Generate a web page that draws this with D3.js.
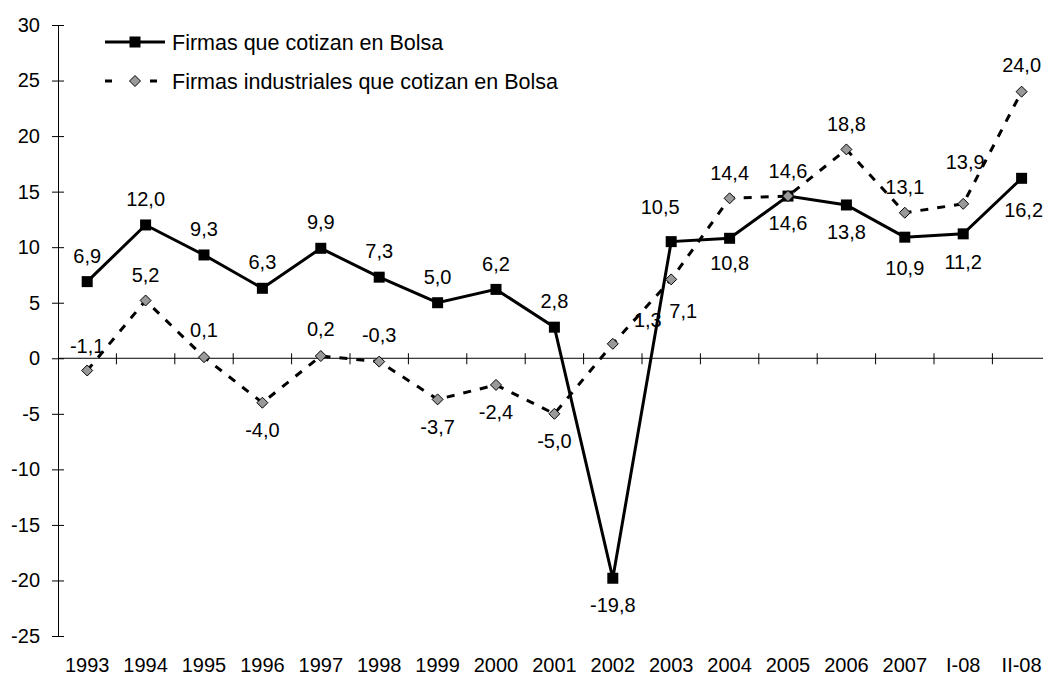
<!DOCTYPE html>
<html>
<head>
<meta charset="utf-8">
<script src="https://cdn.jsdelivr.net/npm/d3@7/dist/d3.min.js"></script>
<style>
  body { margin: 0; background: #fff; }
  svg { display: block; }
  text { font-family: "Liberation Sans", Arial, sans-serif; fill: #000; }
</style>
</head>
<body>
<svg id="chart" width="1043" height="675"></svg>
<script>
// ---- Data ----
const categories = ["1993","1994","1995","1996","1997","1998","1999","2000","2001","2002","2003","2004","2005","2006","2007","I-08","II-08"];
const seriesNames = ["Firmas que cotizan en Bolsa", "Firmas industriales que cotizan en Bolsa"];
const cotizan = [6.9, 12.0, 9.3, 6.3, 9.9, 7.3, 5.0, 6.2, 2.8, -19.8, 10.5, 10.8, 14.6, 13.8, 10.9, 11.2, 16.2];
const industriales = [-1.1, 5.2, 0.1, -4.0, 0.2, -0.3, -3.7, -2.4, -5.0, 1.3, 7.1, 14.4, 14.6, 18.8, 13.1, 13.9, 24.0];
const yTicks = [-25, -20, -15, -10, -5, 0, 5, 10, 15, 20, 25, 30];

// ---- Label layout (offsets from marker, px) ----
const labelOff1 = [[0,-26],[0,-26],[0,-26],[0,-26],[0,-26],[0,-26],[0,-26],[0,-26],[0,-26],[0,27],[-11,-35],[0,25],[0,27],[0,27],[0,31],[0,28],[2,31]];
const labelOff2 = [[0,-25],[0,-26],[0,-27],[0,27],[0,-27],[0,-27],[0,27],[0,27],[0,27],[35,-24],[12,31],[0,-26],[0,-25],[0,-26],[0,-26],[2,-42],[0,-27]];

(function () {
const fmt = v => v.toFixed(1).replace(".", ",");

const svg = d3.select("#chart");
const mLeft = 58, mTop = 25, mBottom = 636;
const x = d3.scaleBand().domain(categories).range([mLeft, mLeft + 17 * 58.4]).padding(0);
const y = d3.scaleLinear().domain([-25, 30]).range([mBottom, mTop]);
const cx = d => x(d) + x.bandwidth() / 2;

// Y axis
const yAxis = svg.append("g").attr("transform", `translate(${mLeft},0)`)
  .call(d3.axisLeft(y).tickValues(yTicks).tickSize(6).tickPadding(12).tickFormat(d => d));
yAxis.select(".domain").attr("stroke", "#000").attr("stroke-width", 1);
yAxis.selectAll(".tick line").attr("x1", -6).attr("x2", 6).attr("stroke", "#000");
yAxis.selectAll(".tick text").style("font-size", "20px").attr("fill", "#000")
  .attr("font-family", "Liberation Sans, Arial, sans-serif");

// X axis line at y=0 with boundary ticks
const y0 = y(0);
svg.append("line").attr("x1", mLeft).attr("x2", 1053).attr("y1", y0).attr("y2", y0)
  .attr("stroke", "#000").attr("stroke-width", 1);
svg.append("g").selectAll("line").data(categories)
  .join("line")
  .attr("x1", d => x(d) + x.bandwidth())
  .attr("x2", d => x(d) + x.bandwidth())
  .attr("y1", y0 - 5).attr("y2", y0 + 6)
  .attr("stroke", "#000").attr("stroke-width", 1);

// X category labels at bottom
const xAxis = svg.append("g").attr("transform", `translate(0,${mBottom})`)
  .call(d3.axisBottom(x).tickSize(0).tickPadding(22));
xAxis.select(".domain").remove();
xAxis.selectAll(".tick text").style("font-size", "20px").attr("fill", "#000")
  .attr("font-family", "Liberation Sans, Arial, sans-serif");

// Data labels (drawn before lines so lines overlap them)
const lbl = svg.append("g").style("font-size", "20px").attr("text-anchor", "middle");
lbl.selectAll("text.s1").data(cotizan).join("text").attr("class", "s1")
  .attr("x", (d, i) => cx(categories[i]) + labelOff1[i][0])
  .attr("y", (d, i) => y(d) + labelOff1[i][1])
  .attr("dy", "0.36em").text(fmt);
lbl.selectAll("text.s2").data(industriales).join("text").attr("class", "s2")
  .attr("x", (d, i) => cx(categories[i]) + labelOff2[i][0])
  .attr("y", (d, i) => y(d) + labelOff2[i][1])
  .attr("dy", "0.36em").text(fmt);

// Lines
const line = d3.line().x((d, i) => cx(categories[i])).y(d => y(d));
svg.append("path").datum(cotizan).attr("d", line)
  .attr("fill", "none").attr("stroke", "#000").attr("stroke-width", 3).attr("stroke-linejoin", "miter");
svg.append("path").datum(industriales).attr("d", line)
  .attr("fill", "none").attr("stroke", "#000").attr("stroke-width", 3).attr("stroke-dasharray", "8,9");

// Markers
const sq = 11;
svg.append("g").selectAll("rect").data(cotizan).join("rect")
  .attr("x", (d, i) => cx(categories[i]) - sq / 2)
  .attr("y", d => y(d) - sq / 2)
  .attr("width", sq).attr("height", sq).attr("fill", "#000");
const diamond = (px, py, r) => `M${px},${py - r}L${px + r},${py}L${px},${py + r}L${px - r},${py}Z`;
svg.append("g").selectAll("path").data(industriales).join("path")
  .attr("d", (d, i) => diamond(cx(categories[i]), y(d), 5.5))
  .attr("fill", "#999").attr("stroke", "#000").attr("stroke-width", 1);

// Legend
const lg = svg.append("g");
lg.append("line").attr("x1", 105).attr("x2", 165).attr("y1", 42).attr("y2", 42)
  .attr("stroke", "#000").attr("stroke-width", 3);
lg.append("rect").attr("x", 135 - sq / 2).attr("y", 42 - sq / 2).attr("width", sq).attr("height", sq).attr("fill", "#000");
lg.append("text").attr("x", 172).attr("y", 42).attr("dy", "0.36em").style("font-size", "21.5px").text(seriesNames[0]);
lg.append("line").attr("x1", 105).attr("x2", 165).attr("y1", 81).attr("y2", 81)
  .attr("stroke", "#000").attr("stroke-width", 3).attr("stroke-dasharray", "7,38");
lg.append("path").attr("d", diamond(135, 81, 5.5)).attr("fill", "#999").attr("stroke", "#000");
lg.append("text").attr("x", 172).attr("y", 81).attr("dy", "0.36em").style("font-size", "21.5px").text(seriesNames[1]);
})();
</script>
</body>
</html>
